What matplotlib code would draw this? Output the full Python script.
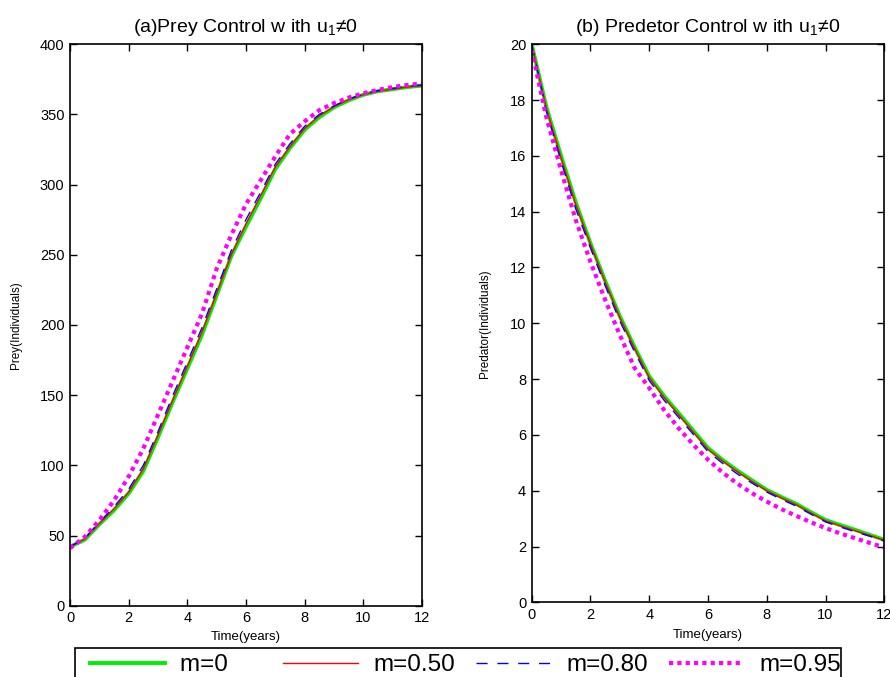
import numpy
import matplotlib
matplotlib.use("agg")
from matplotlib import pyplot
from matplotlib.patches import Rectangle

pyplot.rcParams["font.family"] = ["Liberation Sans", "DejaVu Sans"]
pyplot.rcParams["mathtext.fontset"] = "custom"
pyplot.rcParams["mathtext.rm"] = "Liberation Sans"
pyplot.rcParams["mathtext.it"] = "Liberation Sans:italic"

# time grid (years), values every half year
time = numpy.arange(0, 12.5, 0.5)

prey_m0 = [42, 47, 58, 68, 80, 96, 120, 145, 169, 193, 221, 249, 270,
           290, 311, 326, 339, 348, 355, 360, 364, 366.5, 368, 369.5, 370.5]
prey_m050 = [42, 47.5, 58.5, 69, 81, 97.5, 121.5, 146.5, 170.5, 195, 222.5,
             250, 272, 292, 312.5, 327, 340, 349, 355.5, 360.5, 364, 366.5,
             368, 369.5, 370.5]
prey_m080 = [42, 48, 59.5, 70.5, 83, 100, 124, 149.5, 173.5, 198, 225.5, 253,
             275, 294.5, 314.5, 329, 341.5, 350, 356, 361, 364.5, 367, 368.5,
             370, 371]
prey_m095 = [41, 49, 61, 75, 92, 112, 136, 160, 184, 208, 240, 264, 286, 303,
             320, 336, 345, 353, 358, 362, 365, 367.5, 369.5, 371, 372]

pred_m0 = [20, 17.75, 16.0, 14.33, 12.87, 11.52, 10.25, 9.15, 8.1, 7.4, 6.78,
           6.15, 5.53, 5.1, 4.72, 4.37, 4.03, 3.77, 3.53, 3.23, 2.95, 2.77,
           2.6, 2.42, 2.24]
pred_m050 = [20, 17.7, 15.93, 14.25, 12.83, 11.48, 10.2, 9.1, 8.05, 7.35,
             6.72, 6.1, 5.48, 5.06, 4.68, 4.33, 4.0, 3.74, 3.5, 3.2, 2.92,
             2.74, 2.57, 2.4, 2.22]
pred_m080 = [20, 17.6, 15.8, 14.1, 12.7, 11.35, 10.08, 8.98, 7.95, 7.25, 6.63,
             6.02, 5.4, 4.98, 4.6, 4.27, 3.95, 3.69, 3.45, 3.16, 2.88, 2.7,
             2.53, 2.37, 2.2]
pred_m095 = [19.8, 17.38, 15.48, 13.7, 12.2, 10.84, 9.58, 8.4, 7.68, 6.9, 6.24,
             5.65, 5.11, 4.65, 4.25, 3.91, 3.61, 3.34, 3.1, 2.87, 2.66, 2.47,
             2.3, 2.13, 1.97]

labels = ["m=0", "m=0.50", "m=0.80", "m=0.95"]
xticks = numpy.arange(0, 13, 2)


def draw_panel(ax, series, yticks, ylim, title, ylabel, ylabel_x, xlabel_y):
    styles = [
        dict(color="#00ee00", lw=2.8, ls="-"),
        dict(color="#ff0000", lw=1.0, ls="-"),
        dict(color="#0000ff", lw=1.0, ls=(0, (8, 7))),
        dict(color="#ff00ff", lw=3.0, ls=(0, (1, 1))),
    ]
    lines = []
    for y, st, lab in zip(series, styles, labels):
        ln, = ax.plot(time, y, label=lab, **st)
        lines.append(ln)

    ax.set_xlim(0, 12)
    ax.set_ylim(*ylim)
    ax.set_xticks(xticks)
    ax.set_yticks(yticks)
    ax.tick_params(direction="in", top=True, right=True, length=5, width=1,
                   labelsize=10.5, pad=4)
    for sp in ax.spines.values():
        sp.set_linewidth(1.2)
    ax.set_title(title, fontsize=14, pad=9)
    ax.set_ylabel(ylabel, fontsize=8.5)
    ax.yaxis.set_label_coords(ylabel_x, 0.5)
    ax.set_xlabel("Time(years)", fontsize=9.5)
    ax.xaxis.set_label_coords(0.5, xlabel_y)
    return lines


fig = pyplot.figure(figsize=(8.9, 6.77), dpi=100)
ax1 = fig.add_axes([0.0787, 0.1053, 0.3952, 0.8293])
ax2 = fig.add_axes([0.5974, 0.1103, 0.3962, 0.8243])

lines = draw_panel(ax1, [prey_m0, prey_m050, prey_m080, prey_m095],
                   numpy.arange(0, 401, 50), (0, 400),
                   r"(a)Prey Control w ith u$_1$≠0", "Prey(Individuals)",
                   -0.136, -0.045)
draw_panel(ax2, [pred_m0, pred_m050, pred_m080, pred_m095],
           numpy.arange(0, 21, 2), (0, 20),
           r"(b) Predetor Control w ith u$_1$≠0", "Predator(Individuals)",
           -0.115, -0.048)

# legend frame runs off the bottom of the figure, as in the source
fig.patches.append(Rectangle((75 / 890, 1 - 700 / 677), (841 - 75) / 890,
                             (700 - 648) / 677, transform=fig.transFigure,
                             fill=False, ec="black", lw=1.2))
padded = ["m=0" + " " * 5, "m=0.50", "m=0.80", "m=0.95"]
fig.legend(lines, padded, loc="upper left", ncol=4, frameon=False,
           bbox_to_anchor=(90 / 890, 1 - 654 / 677), borderpad=0,
           borderaxespad=0, fontsize=17.5, handlelength=3.1,
           handletextpad=0.62, columnspacing=0.86)

pyplot.savefig("out.png", dpi=100)
